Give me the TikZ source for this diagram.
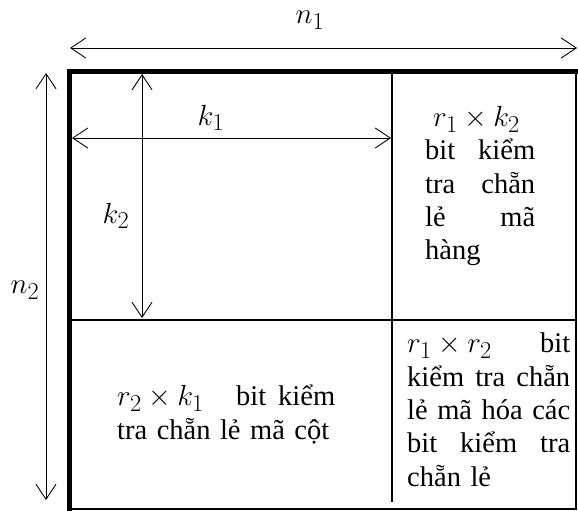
\documentclass[tikz,border=0pt]{standalone}
\usepackage{fontspec}
\usepackage{graphicx}
\setmainfont{Liberation Serif}
\usetikzlibrary{arrows.meta}

\newcommand{\spreadline}[2]{\makebox[#1][s]{#2}}
\newcommand{\cellmath}[1]{\mbox{\scalebox{1.17}{$#1$}}}

\begin{document}
\begin{tikzpicture}[x=1pt, y=-1pt,
    dimarr/.style={{Straight Barb[length=15pt,width=20pt]}-{Straight Barb[length=15pt,width=20pt]}, line width=0.9pt},
    frameedge/.style={line width=4.5pt},
    rule/.style={line width=2pt},
    cell/.style={inner sep=0pt, align=left, font=\fontsize{28.5}{33.3}\selectfont},
    lbl/.style={inner sep=0pt, font=\fontsize{28.5}{30}\selectfont}
]
    \useasboundingbox (0,0) rectangle (578,511);

    % frame and grid
    \coordinate (tl) at (69.5,71.5);
    \coordinate (tr) at (576,71.5);
    \coordinate (br) at (576,509);
    \coordinate (bl) at (69.5,509);
    \coordinate (ml) at (69.5,320);
    \coordinate (mr) at (576,320);
    \coordinate (dtop) at (392,71.5);
    \coordinate (dbot) at (392,502);
    \draw[rule] (tr) -- (br) -- (bl);
    \draw[frameedge, line cap=rect] (bl) -- (tl) -- (tr);
    \draw[rule] (ml) -- (mr);
    \draw[rule] (dtop) -- (dbot);

    % dimension arrows
    \coordinate (n1a) at (70,48);
    \coordinate (n1b) at (577,48);
    \coordinate (n2a) at (46,73);
    \coordinate (n2b) at (46,500);
    \coordinate (k1a) at (72,138);
    \coordinate (k1b) at (391,138);
    \coordinate (k2a) at (142,74);
    \coordinate (k2b) at (142,318);
    \draw[dimarr] (n1a) -- (n1b);
    \draw[dimarr] (n2a) -- (n2b);
    \draw[dimarr] (k1a) -- (k1b);
    \draw[dimarr] (k2a) -- (k2b);

    \node[lbl] (n1) at (310,20) {\cellmath{n_1}};
    \node[lbl] (n2) at (25,290) {\cellmath{n_2}};
    \node[lbl] (k1) at (211,118) {\cellmath{k_1}};
    \node[lbl] (k2) at (116,216) {\cellmath{k_2}};

    % cell texts
    \node[cell, text width=112pt, anchor=north west] (rowchk) at (425,106)
        {\hspace*{8pt}\cellmath{r_1\times k_2}\\
         \spreadline{110pt}{bit\hfill kiểm}\\
         \spreadline{110pt}{tra\hfill chẵn}\\
         \spreadline{110pt}{lẻ\hfill mã}\\
         hàng};
    \node[cell, text width=220pt, anchor=north west] (colchk) at (117,385)
        {\spreadline{218pt}{\cellmath{r_2\times k_1}\hfill bit\hspace{12pt}kiểm}\\
         tra chẵn lẻ mã cột};
    \node[cell, text width=165pt, anchor=north west] (chkchk) at (407,333)
        {\spreadline{163pt}{\cellmath{r_1\times r_2}\hfill bit}\\
         \spreadline{163pt}{kiểm\hfill tra\hfill chẵn}\\
         \spreadline{163pt}{lẻ\hfill mã\hfill hóa\hfill các}\\
         \spreadline{163pt}{bit\hfill kiểm\hfill tra}\\
         chẵn lẻ};
\end{tikzpicture}
\end{document}
